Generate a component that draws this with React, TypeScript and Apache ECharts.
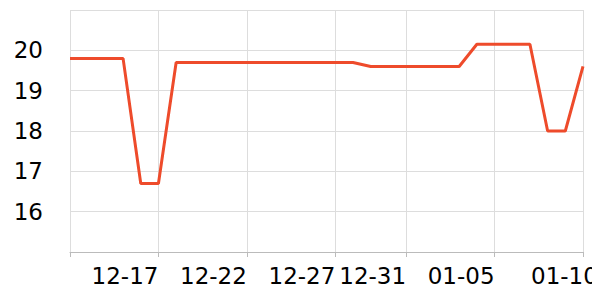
import React, { useEffect, useRef } from "react";
import * as echarts from "echarts";

const dates = [
  "2023-12-12", "2023-12-13", "2023-12-14", "2023-12-15", "2023-12-16", "2023-12-17",
  "2023-12-18", "2023-12-19", "2023-12-20", "2023-12-21", "2023-12-22", "2023-12-23",
  "2023-12-24", "2023-12-25", "2023-12-26", "2023-12-27", "2023-12-28", "2023-12-29",
  "2023-12-30", "2023-12-31", "2024-01-01", "2024-01-02", "2024-01-03", "2024-01-04",
  "2024-01-05", "2024-01-06", "2024-01-07", "2024-01-08", "2024-01-09", "2024-01-10",
];
const values = [
  19.8, 19.8, 19.8, 19.8, 16.7, 16.7,
  19.7, 19.7, 19.7, 19.7, 19.7, 19.7,
  19.7, 19.7, 19.7, 19.7, 19.7, 19.6,
  19.6, 19.6, 19.6, 19.6, 19.6, 20.15,
  20.15, 20.15, 20.15, 18.0, 18.0, 19.6,
];
const tickDates = ["2023-12-12", "2023-12-17", "2023-12-22", "2023-12-27", "2023-12-31", "2024-01-05", "2024-01-10"];

const ts = (d: string) => new Date(d + "T00:00:00Z").getTime();
const pad = (n: number) => (n < 10 ? "0" + n : "" + n);
const fmt = (v: number) => {
  const d = new Date(v);
  return pad(d.getUTCMonth() + 1) + "-" + pad(d.getUTCDate());
};

export default function App() {
  const ref = useRef<HTMLDivElement>(null);
  useEffect(() => {
    if (!ref.current) return;
    const chart = echarts.init(ref.current, undefined, { renderer: "svg" });
    const tickVals = tickDates.map(ts);
    const lastVal = tickVals[tickVals.length - 1];
    chart.setOption({
      animation: false,
      textStyle: { fontFamily: "DejaVu Sans" },
      grid: { left: 62, right: 17, top: 2, bottom: 40 },
      xAxis: {
        type: "value",
        min: ts(dates[0]),
        max: ts(dates[dates.length - 1]),
        axisLine: { lineStyle: { color: "#bbb" } },
        axisTick: { show: true, length: 5, customValues: tickVals, lineStyle: { color: "#bbb" } },
        axisLabel: {
          customValues: tickVals.slice(1, -1),
          formatter: (v: number) => fmt(v),
          align: "right",
          fontSize: 23,
          color: "#000",
          margin: 12,
        },
        splitLine: { show: true, lineStyle: { color: "#ddd" } },
      },
      yAxis: {
        type: "value",
        min: 15,
        max: 21,
        interval: 1,
        axisLine: { show: false },
        axisTick: { show: false },
        axisLabel: { fontSize: 23, color: "#000", margin: 27, showMinLabel: false, showMaxLabel: false },
        splitLine: { lineStyle: { color: "#ddd" } },
      },
      graphic: [
        {
          type: "text",
          left: 523,
          top: 256,
          style: { text: fmt(lastVal), fontSize: 23, fontFamily: "DejaVu Sans", fill: "#000" },
        },
      ],
      series: [
        {
          type: "line",
          data: dates.map((d, i) => [ts(d), values[i]]),
          showSymbol: false,
          lineStyle: { color: "#ee4b2b", width: 3 },
          itemStyle: { color: "#ee4b2b" },
        },
      ],
    });
    return () => chart.dispose();
  }, []);
  return <div ref={ref} style={{ width: 592, height: 284 }} />;
}
